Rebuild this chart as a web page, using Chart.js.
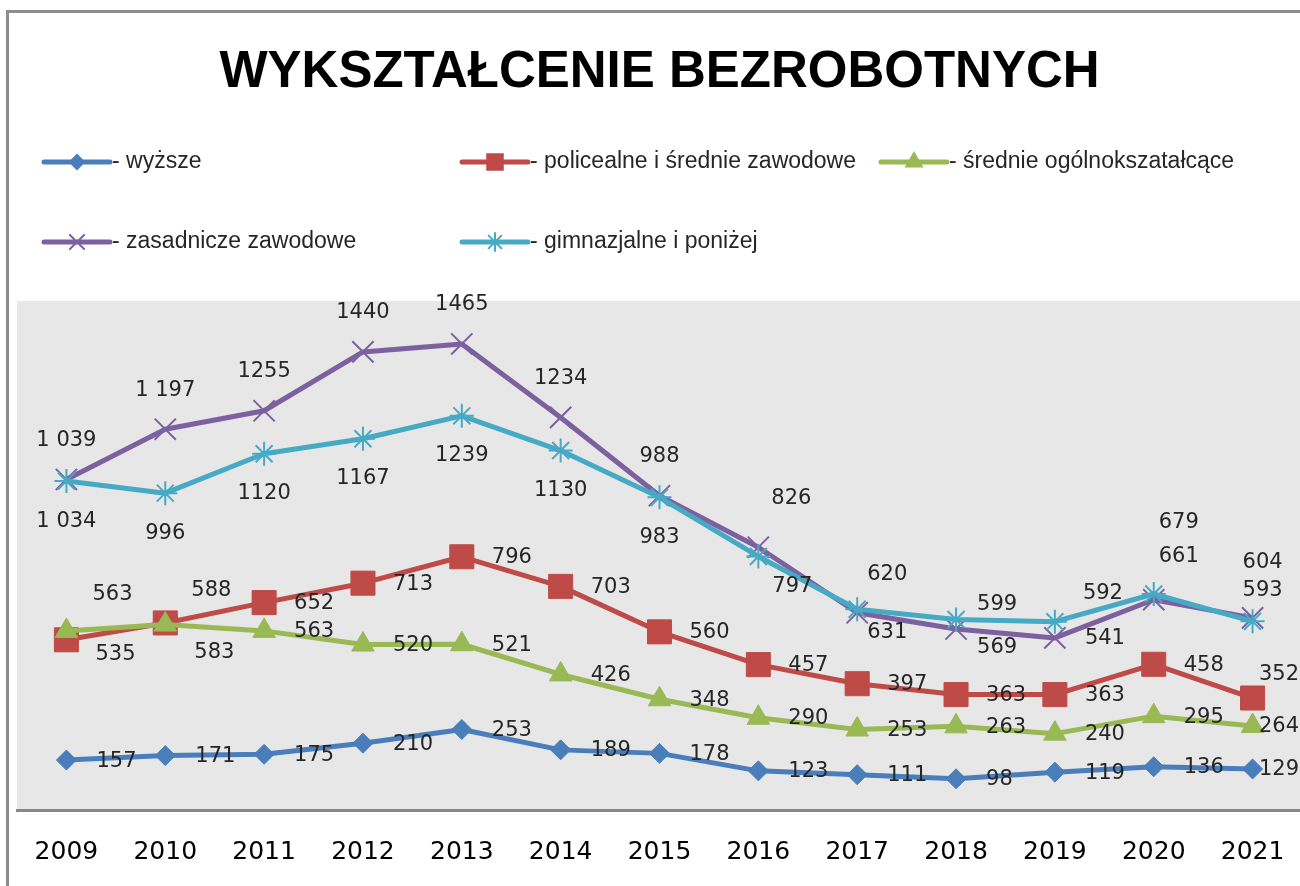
<!DOCTYPE html>
<html>
<head>
<meta charset="utf-8">
<title>Wykształcenie bezrobotnych</title>
<script src="https://cdn.jsdelivr.net/npm/chart.js@4.4.1/dist/chart.umd.min.js"></script>
<style>
    html, body { margin: 0; padding: 0; background: #ffffff; overflow: hidden; }
    #wrap { width: 1302px; height: 886px; }
</style>
</head>
<body>
<div id="wrap"><canvas id="educationChart" width="1302" height="886"></canvas></div>
<script>
// Values

const years = ["2009", "2010", "2011", "2012", "2013", "2014", "2015", "2016", "2017", "2018", "2019", "2020", "2021"];

const wyzsze = [157, 171, 175, 210, 253, 189, 178, 123, 111, 98, 119, 136, 129];
const policealne = [535, 588, 652, 713, 796, 703, 560, 457, 397, 363, 363, 458, 352];
const srednieOgolne = [563, 583, 563, 520, 521, 426, 348, 290, 253, 263, 240, 295, 264];
const zasadnicze = [1039, 1197, 1255, 1440, 1465, 1234, 988, 826, 620, 569, 541, 661, 604];
const gimnazjalne = [1034, 996, 1120, 1167, 1239, 1130, 983, 797, 631, 599, 592, 679, 593];

const seriesNames = [
    "- wyższe",
    "- policealne i średnie zawodowe",
    "- średnie ogólnokszatałcące",
    "- zasadnicze zawodowe",
    "- gimnazjalne i poniżej"
];

// Styling (kept apart from the values)
const seriesColors = ["#4a7ebb", "#be4b48", "#98b954", "#7d60a0", "#46aac5"];
const seriesMarkers = ["rectRot", "rect", "triangle", "crossRot", "star"];
const markerRadius = [10, 17, 13, 15, 12];
const legendMarkerRadius = [7, 11, 9, 10, 9];
const legendSlots = [[44, 162], [462, 162], [881, 162], [44, 242], [462, 242]];

// where each value label sits: "r" right, "a" above, "b" below, or [dx, dy] from the point
const labelPlacement = [
    ["r", "r", "r", "r", "r", "r", "r", "r", "r", "r", "r", "r", "r"],
    [[29, 15], [26, -32], "r", "r", "r", "r", "r", "r", "r", "r", "r", "r", [30, -23]],
    [[26, -36], [29, 28], "r", "r", "r", "r", "r", "r", "r", "r", "r", "r", "r"],
    ["a", "a", "a", "a", "a", "a", "a", [13, -49], [10, -38], [21, 19], "r", [5, -43], [-10, -55]],
    ["b", "b", "b", "b", "b", "b", "b", [14, 30], [10, 23], [21, -15], [28, -28], [5, -71], [-10, -31]]
];
// labels written with a thousands space in the original
const spacedThousands = { 3: [0, 1], 4: [0] };

function formatValue(value, seriesIdx, pointIdx) {
    const spaced = spacedThousands[seriesIdx];
    if (spaced && spaced.includes(pointIdx)) {
        return String(value).replace(/\B(?=(\d{3})+(?!\d))/g, " ");
    }
    return String(value);
}

const frameAndBackground = {
    id: "frameAndBackground",
    beforeDraw(chart) {
        const ctx = chart.ctx;
        const area = chart.chartArea;
        ctx.save();
        ctx.fillStyle = "#e7e7e7";
        ctx.fillRect(area.left, area.top, area.right - area.left, area.bottom - area.top);
        ctx.strokeStyle = "#8c8c8c";
        ctx.lineWidth = 3;
        ctx.beginPath();
        ctx.moveTo(7.5, chart.height);
        ctx.lineTo(7.5, 11.5);
        ctx.lineTo(chart.width, 11.5);
        ctx.stroke();
        ctx.restore();
    }
};

const valueLabels = {
    id: "valueLabels",
    afterDatasetsDraw(chart) {
        const ctx = chart.ctx;
        const rightLimit = 1299;
        ctx.save();
        ctx.font = '21px "DejaVu Sans"';
        ctx.fillStyle = "#262626";
        ctx.textBaseline = "middle";
        ctx.textAlign = "left";
        chart.data.datasets.forEach((ds, i) => {
            const meta = chart.getDatasetMeta(i);
            meta.data.forEach((pt, j) => {
                const text = formatValue(ds.data[j], i, j);
                const w = ctx.measureText(text).width;
                const place = labelPlacement[i][j];
                let x, y;
                if (place === "a") {
                    x = pt.x - w / 2; y = pt.y - 39;
                } else if (place === "b") {
                    x = pt.x - w / 2; y = pt.y + 40;
                } else if (place === "r") {
                    x = pt.x + 30; y = pt.y + 1;
                } else {
                    x = pt.x + place[0]; y = pt.y + place[1];
                }
                x = Math.min(x, rightLimit - w);
                ctx.fillText(text, x, y);
            });
        });
        ctx.restore();
    }
};

const excelLegend = {
    id: "excelLegend",
    afterDraw(chart) {
        const ctx = chart.ctx;
        chart.data.datasets.forEach((ds, i) => {
            const [x, y] = legendSlots[i];
            ctx.save();
            ctx.strokeStyle = ds.borderColor;
            ctx.fillStyle = ds.borderColor;
            ctx.lineWidth = 5;
            ctx.lineCap = "round";
            ctx.beginPath();
            ctx.moveTo(x, y);
            ctx.lineTo(x + 66, y);
            ctx.stroke();
            ctx.lineWidth = 2;
            Chart.helpers.drawPoint(ctx, {
                pointStyle: ds.pointStyle,
                radius: legendMarkerRadius[i],
                borderWidth: 2,
                rotation: 0
            }, x + 33, y);
            ctx.fillStyle = "#262626";
            ctx.font = '23px "Liberation Sans"';
            ctx.textBaseline = "middle";
            ctx.textAlign = "left";
            ctx.fillText(ds.label, x + 68, y);
            ctx.restore();
        });
    }
};

const seriesValues = [wyzsze, policealne, srednieOgolne, zasadnicze, gimnazjalne];

const datasets = seriesValues.map((values, i) => ({
    label: seriesNames[i],
    data: values,
    borderColor: seriesColors[i],
    backgroundColor: seriesColors[i],
    borderWidth: 5,
    tension: 0,
    borderJoinStyle: "round",
    pointStyle: seriesMarkers[i],
    pointRadius: markerRadius[i],
    pointBackgroundColor: seriesColors[i],
    pointBorderColor: seriesColors[i],
    pointBorderWidth: (seriesMarkers[i] == "crossRot" || seriesMarkers[i] == "star") ? 2 : 1,
    order: seriesValues.length - i   // later series on top, like the original
}));

new Chart(document.getElementById("educationChart"), {
    type: "line",
    data: {
        labels: years,
        datasets: datasets
    },
    options: {
        responsive: false,
        animation: false,
        layout: { autoPadding: false, padding: { left: 17, right: 0, top: 0, bottom: 18 } },
        plugins: {
            legend: { display: false },
            tooltip: { enabled: false },
            title: {
                display: true,
                text: "WYKSZTAŁCENIE BEZROBOTNYCH",
                color: "#000000",
                font: { family: '"Liberation Sans"', size: 51, weight: "bold" },
                padding: { top: 42.4, bottom: 197.4 }
            }
        },
        scales: {
            x: {
                offset: true,
                grid: { display: false, drawTicks: false },
                border: { display: true, color: "#878787", width: 3 },
                ticks: {
                    color: "#000000",
                    padding: 17,
                    maxRotation: 0,
                    font: { family: '"DejaVu Sans"', size: 25, lineHeight: 2.0 }
                },
                afterFit(scale) {
                    scale.height = 58;  // keep the plot floor where the original has it
                }
            },
            y: {
                display: false,
                min: 0,
                max: 1600
            }
        }
    },
    plugins: [frameAndBackground, valueLabels, excelLegend]
});
</script>
</body>
</html>
